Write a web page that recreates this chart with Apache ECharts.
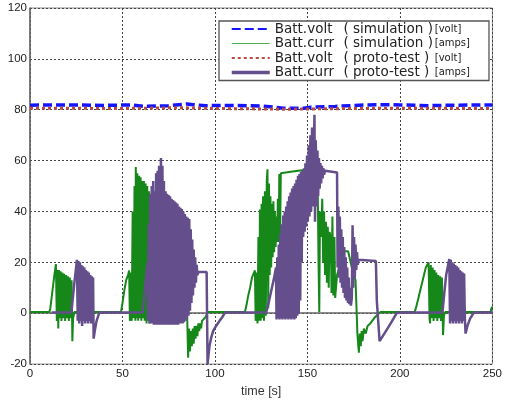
<!DOCTYPE html>
<html>
<head>
<meta charset="utf-8">
<script src="https://cdn.jsdelivr.net/npm/echarts@6/dist/echarts.min.js"></script>
<style>
  html, body { margin: 0; padding: 0; background: #fff; }
  #chart { width: 505px; height: 403px; }
</style>
</head>
<body>
<div id="chart"></div>
<script>
// series names: label | source | unit
let names = [
  "Batt.volt|( simulation )|[volt]",
  "Batt.curr|( simulation )|[amps]",
  "Batt.volt|( proto-test )|[volt]",
  "Batt.curr|( proto-test )|[amps]"
];

// [time s, value]
let simVolt = [
  [0, 81.8], [20, 81.9], [40, 81.7], [55, 81.9], [62, 81.3], [75, 81.6], [85, 82.3],
  [88, 82.0], [95, 81.6], [110, 81.7], [125, 81.5], [133, 80.9], [137, 80.6], [148, 80.6],
  [152, 81.0], [165, 81.3], [178, 81.8], [190, 82.0], [200, 81.9], [215, 81.6], [230, 81.8], [250, 81.9]
];

let protoVolt = [
  [0, 80.6], [50, 80.5], [80, 80.8], [100, 80.5], [140, 80.2], [160, 80.4], [200, 80.6], [250, 80.5]
];

let simCurr = [
  [0, 0.5], [10.5, 0.5], [11, 2], [12, 8], [13, 14], [14, 19.3],
  [14.5, -3], [15, 17], [15.3, -6], [15.7, 17], [16, -2], [16.5, 16.5], [17, -3], [17.5, 16],
  [18, -2], [18.5, 15.5], [19, -3], [19.5, 15], [20, -2], [20.5, 14.5], [21, -3], [21.5, 14],
  [22, -2], [22.5, 13], [22.9, -11], [23.3, -2], [24, 0.5], [49.2, 0.5],
  [50, 4], [51, 9], [52, 13], [53, 15], [53.6, 16.8], [54, -3], [54.5, 16], [55, -3], [55.5, 40],
  [56, -2], [56.5, 50], [57, -3], [57.2, 57.5], [57.6, -2], [58, 55], [58.5, -3], [59, 54],
  [59.5, -2], [59.8, 53.5], [60.2, -3], [60.6, 52], [61, -2], [61.6, 52], [62, -3], [62.5, 51],
  [63, -4], [63.4, 50], [63.8, -3], [64.3, 48], [64.7, -4], [65.1, 41], [65.5, -2], [66, 46],
  [66.4, 5], [67, 10], [70, 8], [75, 6], [80, 4], [85, -2],
  [85.5, -17.5], [86, -6], [86.5, -15], [87, -7], [87.5, -13], [88, -6], [88.5, -12], [89, -5],
  [89.5, -10], [90, -5], [90.5, -9], [91, -4], [91.5, -7], [92, -4], [92.5, -6], [93, -3],
  [94, -2.5], [95, -1.5], [96, 0.5], [116.2, 0.5],
  [117, 3], [118, 7], [119, 10], [120, 14], [121.6, 16.8], [122, -3], [122.5, 16], [123, -4],
  [123.5, 30], [124, -3], [124.3, 40.8], [124.7, -3], [125.2, 43], [125.6, -2], [126, 46],
  [126.5, -3], [127, 48], [127.5, -1], [128, 52], [128.4, 56.6], [128.8, 2], [129.2, 51],
  [129.6, 15], [130, 46], [130.4, 18], [130.8, 43], [131.2, 22], [131.6, 44], [132, 24],
  [132.4, 40], [132.8, 26], [133.2, 38], [133.6, 28], [134, 45], [134.4, 28], [134.8, 54.7],
  [135.2, 30], [135.6, 55], [136, 55.2], [140, 55.5], [145, 56], [148.4, 56.3], [152, 56],
  [155, 50], [155.6, 47], [156, 20], [156.4, 0.5], [156.8, 40], [157.5, 30], [158, 45],
  [158.5, 20], [159, 40], [159.5, 15], [160, 36], [160.5, 12], [161, 34], [161.5, 10],
  [162, 32], [162.7, 29], [163, 8], [163.5, 38], [164, 7], [164.6, 30], [165, 6], [166, 15],
  [168, 20], [170, 24.4], [172, 24.4], [174, 18], [176, 13], [177, -8], [177.8, -15.5],
  [178.3, -8], [178.8, -13], [179.3, -7], [179.8, -11], [180.5, -6], [181.5, -8], [182.5, -5],
  [184, -4], [186, -2], [188, -0.5], [189.5, 0.5], [208, 0.5],
  [209, 3], [210, 6], [211, 9], [212, 12], [213, 15], [214, 18], [215.5, 20], [216, -2],
  [216.3, -4], [216.7, 19], [217.2, -2], [217.7, 18], [218.2, -3], [218.7, 17], [219.2, -2],
  [219.7, 16], [220.2, -3], [220.7, 15], [221.2, -2], [221.7, 14.5], [222.2, -3], [222.7, 14],
  [223.3, -8.6], [223.8, -1], [224.5, 0.5], [249, 0.5], [249.5, 2], [250, 2.5]
];

let protoCurr = [
  [11.6, 0.3], [22.4, 0.3], [23, 5], [24, 12], [25.4, 21], [25.8, -3], [26.2, 20.5], [26.6, -4],
  [27, 20], [27.4, -3], [27.8, 19], [28.2, -5], [28.6, 18.5], [29, -3], [29.4, 18], [29.8, -4],
  [30.2, 17], [30.6, -3], [31, 16.5], [31.4, -4], [31.8, 16], [32.2, -3], [32.6, 15], [33, -4],
  [33.4, 14.5], [33.8, -2], [34.1, 14], [34.4, -10], [35, -7], [36, -3], [37.5, 0.3], [60.8, 0.3],
  [62, 8], [63.5, 20], [63.8, -3], [64.2, 35], [64.6, -4], [65, 47], [65.4, -4], [65.8, 50],
  [66.2, -4], [66.6, 52], [67, -4.5], [67.4, 48], [67.8, -4.5], [68.2, 55], [68.6, -4.5],
  [69, 56], [69.4, -4.5], [69.8, 58], [70.2, -4.5], [70.8, 61], [71.2, -4.5], [71.6, 58],
  [72, -4.5], [72.4, 52], [72.8, -4.5], [73.3, 48], [73.7, -4.5], [74.1, 47], [74.5, -4.5],
  [74.9, 46.5], [75.3, -4.5], [75.7, 46], [76.1, -4.5], [76.5, 45], [76.9, -4.5], [77.3, 44.5],
  [77.7, -4.5], [78.1, 44], [78.5, -4.5], [78.9, 43.5], [79.3, -4.5], [79.7, 43], [80.1, -4.5],
  [80.5, 42], [80.9, -4], [81.3, 41.5], [81.7, -4], [82.1, 41], [82.5, -4], [82.9, 40],
  [83.3, -3.5], [83.7, 39], [84.1, -3], [84.5, 38], [84.9, -2], [85.3, 37.5], [85.7, -1],
  [86.1, 37], [86.5, 1], [86.9, 33], [87.3, 4], [87.7, 29], [88.1, 7], [88.5, 25], [88.9, 10],
  [89.3, 22], [89.7, 12], [90.1, 19], [90.5, 15], [91, 16.2], [95.5, 16.2], [96, -20], [97, -13],
  [97.9, -9.8], [99, -7], [100.6, -5], [102.5, -3], [104, -1.5], [105.5, 0.3], [127.7, 0.3],
  [129, 4], [130.5, 9], [132, 14], [133, 18], [133.3, -2.5], [133.7, 22], [134.1, -2],
  [134.5, 27], [134.9, -2.5], [135.3, 31], [135.7, -2], [136.1, 35], [136.5, -2.5], [136.9, 38.4],
  [137.3, -2], [137.7, 40], [138.1, -2.5], [138.5, 42], [138.9, -2], [139.3, 44], [139.7, -2.5],
  [140.1, 46], [140.5, -2], [140.9, 47.5], [141.3, -2.5], [141.7, 49], [142.1, -2], [142.5, 50],
  [142.9, -2.5], [143.3, 51], [143.7, -2], [144.1, 52.5], [144.5, -1], [144.9, 54], [145.3, 0],
  [145.7, 54.7], [146.1, 5], [146.5, 55.5], [146.9, 20], [147.3, 56], [147.7, 30], [148.1, 57],
  [148.5, 32], [148.9, 59], [149.3, 34], [149.8, 62], [150.2, 36], [150.7, 66], [151.1, 38],
  [151.6, 70], [152, 40], [152.5, 73], [152.9, 42], [153.8, 78], [154.1, 36], [154.5, 68],
  [155, 42], [155.4, 64], [155.8, 46], [156.2, 61], [156.6, 49], [157, 59], [157.4, 51],
  [157.8, 58], [158.2, 53], [158.6, 57], [159, 54.5], [159.5, 56], [160, 55.3], [166, 55.3],
  [166.3, 18], [166.7, 42], [167.1, 14], [167.5, 38], [167.9, 12], [168.3, 33], [168.7, 10],
  [169.1, 30], [169.5, 8], [169.9, 26], [170.3, 6], [170.7, 22], [171.1, 5], [171.5, 18],
  [171.9, 4], [172.3, 14], [172.7, 3.5], [173.1, 10], [173.5, 3], [174, 6], [174.4, 34.6],
  [174.8, 10], [175.2, 30], [175.6, 14], [176, 27], [176.4, 17], [176.8, 24], [177.2, 19],
  [177.6, 21], [178, 20.5], [187, 20.5], [187.5, 5], [189, -11], [192, -7.5], [195, -4],
  [198.5, 0.3], [223, 0.3], [224, 8], [225, 15], [226.7, 21.3], [227.1, -4], [227.5, 21],
  [227.9, -3], [228.3, 20], [228.7, -4], [229.1, 19.5], [229.5, -3], [229.9, 19], [230.3, -4],
  [230.7, 18.5], [231.1, -3], [231.5, 18], [231.9, -4], [232.3, 17], [232.7, -3], [233.1, 16.5],
  [233.5, -4], [233.9, 16], [234.3, -3], [234.7, 15.6], [235.1, -2], [235.5, -8], [236.5, -5],
  [238, -2], [240, 0.3], [250, 0.3]
];

let xTicks = [0, 50, 100, 150, 200, 250];
let yTicks = [-20, 0, 20, 40, 60, 80, 100, 120];

let chartDom = document.getElementById("chart");
let myChart = echarts.init(chartDom);
let labelFont = "Liberation Sans, Arial, sans-serif";
let option;

option = {
  animation: false,
  grid: {
    left: 30,
    right: 9,
    top: 8,
    bottom: 26,
    show: true,
    borderColor: "#8a8a8a",
    borderWidth: 1,
  },
  legend: {
    orient: "vertical",
    left: 219,
    top: 21,
    padding: [1, 19, 1, 11],
    itemWidth: 38,
    itemHeight: 14,
    itemGap: 0.5,
    backgroundColor: "#fff",
    borderColor: "#555",
    borderWidth: 1.3,
    borderRadius: 0,
    // hide the marker dot, keep only the line sample
    itemStyle: { opacity: 0, borderWidth: 0 },
    data: [
      { name: names[0] },
      { name: names[1], lineStyle: { width: 1.2, color: "#4fae4f" } },
      { name: names[2] },
      { name: names[3], lineStyle: { width: 3.5 } },
    ],
    formatter: function (name) {
      let p = name.split("|");
      return "{a|" + p[0] + "}{b|" + p[1] + "}{c|" + p[2] + "}";
    },
    textStyle: {
      color: "#222",
      rich: {
        a: { fontFamily: "DejaVu Sans", fontSize: 13.5, width: 68.7, lineHeight: 14, color: "#222" },
        b: { fontFamily: "DejaVu Sans", fontSize: 13.5, width: 91.3, lineHeight: 14, color: "#222" },
        c: { fontFamily: "DejaVu Sans", fontSize: 10, lineHeight: 14, color: "#222" },
      },
    },
  },
  xAxis: {
    type: "value",
    min: xTicks[0],
    max: xTicks[xTicks.length - 1],
    interval: 50,
    name: "time [s]",
    nameLocation: "middle",
    nameGap: 15,
    nameTextStyle: { color: "#333", fontSize: 12.5, fontFamily: labelFont },
    axisLine: { show: true, lineStyle: { color: "#666", width: 1.5 } },
    axisTick: { show: false },
    axisLabel: { color: "#222", fontSize: 11.5, fontFamily: labelFont, margin: 4 },
    splitLine: { show: true, lineStyle: { color: "#444", type: [2, 2], width: 1 } },
  },
  yAxis: {
    type: "value",
    min: yTicks[0],
    max: yTicks[yTicks.length - 1],
    interval: 20,
    axisLine: { show: true, lineStyle: { color: "#666", width: 1.5 } },
    axisTick: { show: false },
    axisLabel: { color: "#222", fontSize: 11.5, fontFamily: labelFont, margin: 3 },
    splitLine: { show: true, lineStyle: { color: "#444", type: [2, 2], width: 1 } },
  },
  series: [
    {
      name: names[0],
      type: "line",
      symbol: "none",
      data: simVolt,
      color: "#1414ff",
      lineStyle: { color: "#1414ff", width: 3.5, type: [9, 4] },
      z: 3,
    },
    {
      name: names[1],
      type: "line",
      symbol: "none",
      data: simCurr,
      color: "#16881a",
      lineStyle: { color: "#16881a", width: 2 },
      z: 2,
    },
    {
      name: names[2],
      type: "line",
      symbol: "none",
      data: protoVolt,
      color: "#b84a40",
      lineStyle: { color: "#b84a40", width: 3, type: [3, 3] },
      z: 4,
    },
    {
      name: names[3],
      type: "line",
      symbol: "none",
      data: protoCurr,
      color: "#644e8b",
      lineStyle: { color: "#644e8b", width: 2.5 },
      z: 2,
    },
  ],
};

option && myChart.setOption(option);
</script>
</body>
</html>
